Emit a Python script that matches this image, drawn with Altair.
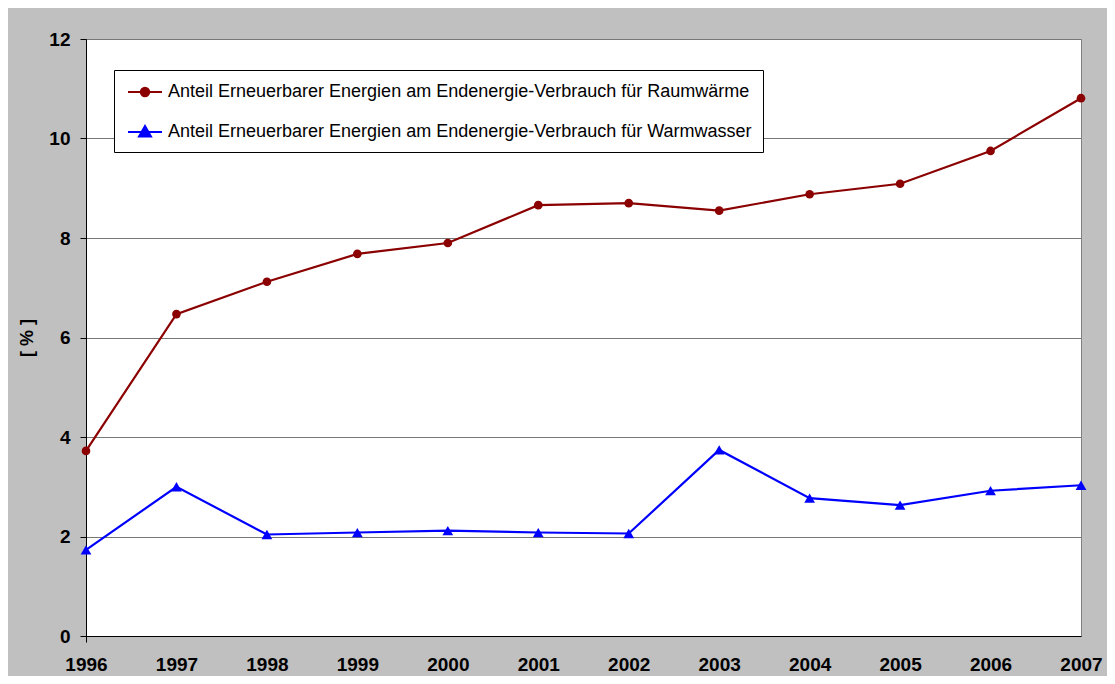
import altair as alt
import pandas as pd

years = [1996, 1997, 1998, 1999, 2000, 2001, 2002, 2003, 2004, 2005, 2006, 2007]
raumwaerme = [3.72, 6.47, 7.12, 7.68, 7.90, 8.66, 8.70, 8.55, 8.88, 9.09, 9.75, 10.81]
warmwasser = [1.73, 3.00, 2.04, 2.08, 2.12, 2.08, 2.06, 3.74, 2.77, 2.63, 2.92, 3.03]

s1 = "Anteil Erneuerbarer Energien am Endenergie-Verbrauch für Raumwärme"
s2 = "Anteil Erneuerbarer Energien am Endenergie-Verbrauch für Warmwasser"
series_names = [s1, s2]
colors = ["#8B0000", "#0000FF"]
y_ticks = [0, 2, 4, 6, 8, 10, 12]

df = pd.DataFrame(
    {
        "Jahr": years * 2,
        "Wert": raumwaerme + warmwasser,
        "Serie": [s1] * len(years) + [s2] * len(years),
    }
)

# legend symbols: short line with marker in the middle
circle_path = "M-1.7,0H1.7M-0.42,0A0.42,0.42,0,1,1,0.42,0A0.42,0.42,0,1,1,-0.42,0Z"
tri_path = "M-1.7,0H1.7M0,-0.6L0.6,0.45L-0.6,0.45Z"

x_enc = alt.X(
    "Jahr:Q",
    scale=alt.Scale(domain=[1996, 2007], nice=False, zero=False),
    axis=alt.Axis(
        values=years,
        format="d",
        title=None,
        grid=False,
        domainColor="black",
        tickColor="black",
        tickSize=6,
        tickOpacity={"condition": {"test": "datum.value === 1996", "value": 1}, "value": 0},
        labelFlush=False,
        labelPadding=13,
        labelFont="Liberation Sans",
        labelFontWeight="bold",
        labelFontSize=19,
        labelColor="black",
    ),
)
y_enc = alt.Y(
    "Wert:Q",
    scale=alt.Scale(domain=[0, 12], nice=False),
    axis=alt.Axis(
        values=y_ticks,
        title="[ % ]",
        titleFont="Liberation Sans",
        titleFontWeight="bold",
        titleFontSize=18,
        titleColor="black",
        titlePadding=12,
        grid=True,
        gridColor="#777777",
        gridWidth=1,
        domainColor="black",
        tickColor="black",
        tickSize=6,
        labelFlush=False,
        labelPadding=10,
        labelFont="Liberation Sans",
        labelFontWeight="bold",
        labelFontSize=19,
        labelColor="black",
    ),
)


def series_layers(name, color, shape, size):
    base = alt.Chart(df).transform_filter(alt.datum.Serie == name)
    line = base.mark_line(strokeWidth=2.2, color=color).encode(x=x_enc, y=y_enc)
    pts = base.mark_point(
        filled=True, opacity=1, shape=shape, size=size, color=color
    ).encode(x=x_enc, y=y_enc)
    return [line, pts]


leg = alt.Legend(
    orient="none",
    legendX=28,
    legendY=31,
    title=None,
    strokeColor="black",
    fillColor="white",
    padding=11,
    symbolOffset=9,
    labelOffset=12,
    rowPadding=20,
    symbolSize=400,
    symbolStrokeWidth=2,
    symbolOpacity=1,
    labelFont="Liberation Sans",
    labelFontSize=18,
    labelColor="black",
    labelLimit=1000,
)

legend_layer = (
    alt.Chart(df)
    .transform_filter("false")
    .mark_point(filled=True, opacity=1, strokeWidth=2)
    .encode(
        x=x_enc,
        y=y_enc,
        fill=alt.Fill("Serie:N", scale=alt.Scale(domain=series_names, range=colors), legend=leg),
        stroke=alt.Stroke("Serie:N", scale=alt.Scale(domain=series_names, range=colors), legend=leg),
        shape=alt.Shape(
            "Serie:N",
            scale=alt.Scale(domain=series_names, range=[circle_path, tri_path]),
            legend=leg,
        ),
    )
)

layers = (
    series_layers(s1, colors[0], "circle", 75)
    + series_layers(s2, colors[1], "triangle-up", 115)
    + [legend_layer]
)

chart = (
    alt.layer(*layers)
    .properties(
        width=995,
        height=597,
        autosize=alt.AutoSizeParams(type="none"),
        padding={"left": 78, "top": 31, "right": 26, "bottom": 40},
        background="#C0C0C0",
    )
    .configure_view(fill="white", stroke="#808080", strokeWidth=1)
)

chart.save("out.html", embed_options={"renderer": "svg", "actions": False})
